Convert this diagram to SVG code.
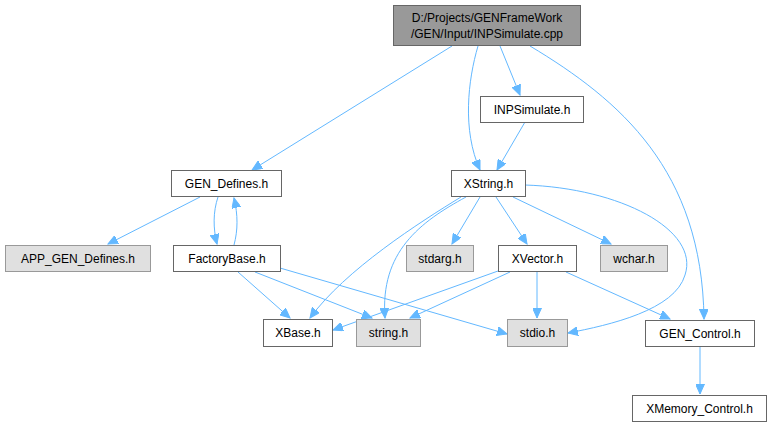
<svg xmlns="http://www.w3.org/2000/svg" width="773" height="427" viewBox="0 0 773 427">
<style>
.n rect{fill:#fff;stroke:#666;stroke-width:1}
.g rect{fill:#e0e0e0;stroke:#999;stroke-width:1}
.r rect{fill:#999;stroke:#666;stroke-width:1}
text{font-family:"Liberation Sans",Arial,sans-serif;font-size:12px;fill:#000;text-anchor:middle}
#edges path{fill:none;stroke:#63b8ff;stroke-width:1;marker-end:url(#a)}
</style>
<defs>
<marker id="a" markerUnits="userSpaceOnUse" markerWidth="11" markerHeight="9" refX="10" refY="4.5" orient="auto">
<path d="M0,0 L10,4.5 L0,9 z" fill="#63b8ff" stroke="#63b8ff"/>
</marker>
</defs>
<rect width="773" height="427" fill="#fff"/>
<g id="edges">
<path d="M452,46 L252,170"/>
<path d="M478,46 C468,80 462,130 480,170"/>
<path d="M500,46 L520,95"/>
<path d="M530,46 C620,100 702,170 704,319"/>
<path d="M525,122 L497,170"/>
<path d="M200,197 L108,244"/>
<path d="M218,197 C213,212 213,228 217,244"/>
<path d="M234,245 C238,230 238,215 234,198"/>
<path d="M238,272 L290,318"/>
<path d="M255,272 L372,318"/>
<path d="M280,268 L507,334"/>
<path d="M461,197 C420,222 345,270 310,318"/>
<path d="M466,197 C420,222 380,252 385,318"/>
<path d="M480,197 L452,244"/>
<path d="M496,197 L527,244"/>
<path d="M513,197 L611,244"/>
<path d="M525,185 C620,188 700,230 685,275 C675,310 610,325 568,333"/>
<path d="M498,271 L333,330"/>
<path d="M510,272 L410,318"/>
<path d="M537,272 L537,318"/>
<path d="M566,272 L670,319"/>
<path d="M700,347 L700,394"/>
</g>
<g id="root" class="r"><rect x="393.5" y="5.5" width="187" height="40"/><text x="487" y="22">D:/Projects/GENFrameWork</text><text x="487" y="38">/GEN/Input/INPSimulate.cpp</text></g>
<g id="inpsimulate" class="n"><rect x="480.5" y="96.5" width="103" height="26"/><text x="532" y="114">INPSimulate.h</text></g>
<g id="gen_defines" class="n"><rect x="171.5" y="170.5" width="110" height="26"/><text x="226.5" y="188">GEN_Defines.h</text></g>
<g id="xstring" class="n"><rect x="451.5" y="170.5" width="74" height="26"/><text x="488.5" y="188">XString.h</text></g>
<g id="app_gen_defines" class="g"><rect x="5.5" y="245.5" width="145" height="26"/><text x="78" y="263">APP_GEN_Defines.h</text></g>
<g id="factorybase" class="n"><rect x="173.5" y="245.5" width="107" height="26"/><text x="227" y="263">FactoryBase.h</text></g>
<g id="stdarg" class="g"><rect x="406.5" y="245.5" width="67" height="26"/><text x="440" y="263">stdarg.h</text></g>
<g id="xvector" class="n"><rect x="498.5" y="245.5" width="78" height="26"/><text x="537.5" y="263">XVector.h</text></g>
<g id="wchar" class="g"><rect x="600.5" y="245.5" width="67" height="26"/><text x="634" y="263">wchar.h</text></g>
<g id="xbase" class="n"><rect x="263.5" y="319.5" width="69" height="27"/><text x="298" y="337">XBase.h</text></g>
<g id="string" class="g"><rect x="356.5" y="319.5" width="64" height="27"/><text x="388.5" y="337">string.h</text></g>
<g id="stdio" class="g"><rect x="507.5" y="319.5" width="60" height="27"/><text x="537.5" y="337">stdio.h</text></g>
<g id="gen_control" class="n"><rect x="645.5" y="320.5" width="109" height="26"/><text x="700" y="338">GEN_Control.h</text></g>
<g id="xmemory_control" class="n"><rect x="632.5" y="395.5" width="134" height="26"/><text x="699.5" y="413">XMemory_Control.h</text></g>
</svg>
